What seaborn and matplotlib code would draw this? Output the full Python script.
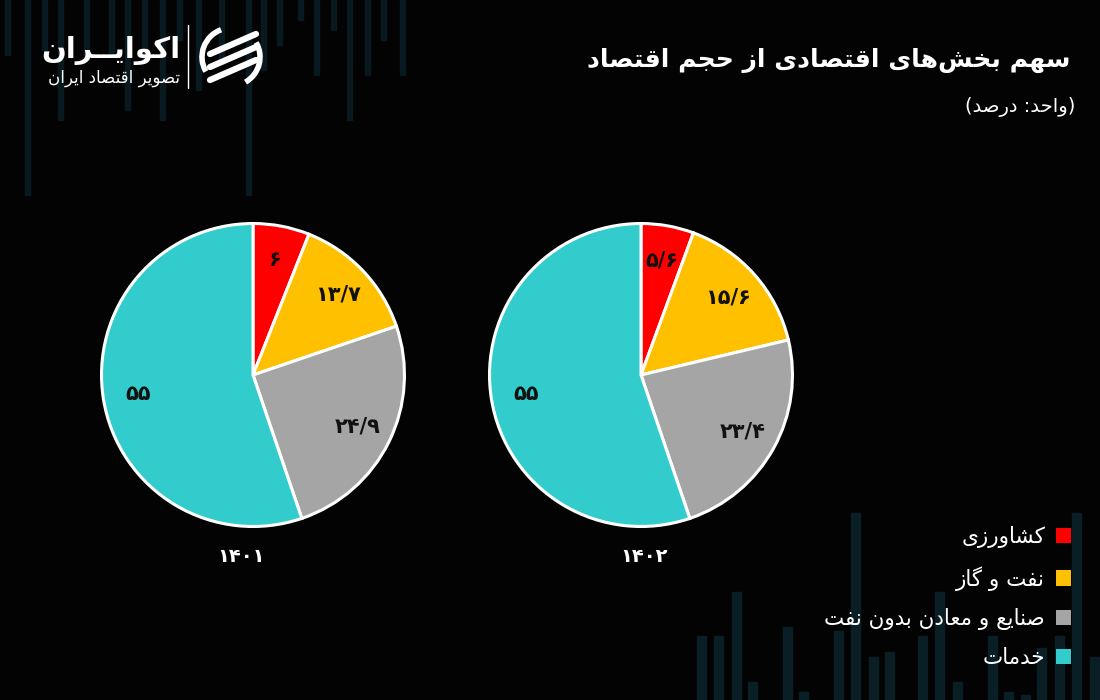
import matplotlib
matplotlib.use("Agg")
import matplotlib.pyplot as plt
import seaborn as sns
from matplotlib.patches import Patch, Rectangle, Arc

# --- data ---
sectors = ["کشاورزی", "نفت و گاز", "صنایع و معادن بدون نفت", "خدمات"]
share_1401 = [6, 13.7, 24.9, 55]
share_1402 = [5.6, 15.6, 23.4, 55]
years = ["۱۴۰۱", "۱۴۰۲"]
colors = ["#ff0000", "#ffc000", "#a5a5a5", "#33cccc"]

title = "سهم بخش‌های اقتصادی از حجم اقتصاد"
subtitle = "(واحد: درصد)"
brand = "اکوایــران"
brand_sub = "تصویر اقتصاد ایران"

# --- tiny arabic shaper (no arabic_reshaper available) ---
# isolated, final, initial, medial
FORMS = {
    "ا": ("\uFE8D", "\uFE8E", None, None),
    "ب": ("\uFE8F", "\uFE90", "\uFE91", "\uFE92"),
    "ت": ("\uFE95", "\uFE96", "\uFE97", "\uFE98"),
    "ج": ("\uFE9D", "\uFE9E", "\uFE9F", "\uFEA0"),
    "ح": ("\uFEA1", "\uFEA2", "\uFEA3", "\uFEA4"),
    "خ": ("\uFEA5", "\uFEA6", "\uFEA7", "\uFEA8"),
    "د": ("\uFEA9", "\uFEAA", None, None),
    "ر": ("\uFEAD", "\uFEAE", None, None),
    "ز": ("\uFEAF", "\uFEB0", None, None),
    "س": ("\uFEB1", "\uFEB2", "\uFEB3", "\uFEB4"),
    "ش": ("\uFEB5", "\uFEB6", "\uFEB7", "\uFEB8"),
    "ص": ("\uFEB9", "\uFEBA", "\uFEBB", "\uFEBC"),
    "ع": ("\uFEC9", "\uFECA", "\uFECB", "\uFECC"),
    "ف": ("\uFED1", "\uFED2", "\uFED3", "\uFED4"),
    "ق": ("\uFED5", "\uFED6", "\uFED7", "\uFED8"),
    "م": ("\uFEE1", "\uFEE2", "\uFEE3", "\uFEE4"),
    "ن": ("\uFEE5", "\uFEE6", "\uFEE7", "\uFEE8"),
    "ه": ("\uFEE9", "\uFEEA", "\uFEEB", "\uFEEC"),
    "و": ("\uFEED", "\uFEEE", None, None),
    "ی": ("\uFBFC", "\uFBFD", "\uFBFE", "\uFBFF"),
    "ک": ("\uFB8E", "\uFB8F", "\uFB90", "\uFB91"),
    "گ": ("\uFB92", "\uFB93", "\uFB94", "\uFB95"),
    "ـ": ("ـ", "ـ", "ـ", "ـ"),
}


def fa(s):
    out = []
    for i, ch in enumerate(s):
        if ch == "\u200c":
            continue
        if ch not in FORMS:
            out.append(ch)
            continue
        iso, fin, ini, med = FORMS[ch]
        prev = s[i - 1] if i > 0 else ""
        nxt = s[i + 1] if i + 1 < len(s) else ""
        jp = prev in FORMS and FORMS[prev][2] is not None
        jn = ini is not None and nxt in FORMS
        if jp and jn:
            out.append(med)
        elif jp:
            out.append(fin)
        elif jn:
            out.append(ini)
        else:
            out.append(iso)
    vis = "".join(out)[::-1]
    return vis.translate(str.maketrans("()", ")("))


def fa_num(v):
    txt = f"{v:g}".replace(".", "/")
    return txt.translate(str.maketrans("0123456789", "۰۱۲۳۴۵۶۷۸۹"))


sns.set_theme(style="dark")
plt.rcParams["font.family"] = ["DejaVu Sans"]
pal = sns.color_palette(colors)

fig = plt.figure(figsize=(11, 7), dpi=100)
fig.patch.set_facecolor("#030303")

# background canvas in pixel coords
bg = fig.add_axes([0, 0, 1, 1], zorder=0)
bg.set_xlim(0, 1100)
bg.set_ylim(700, 0)
bg.axis("off")
bg.set_facecolor("#030303")

# decorative bars
deco_top = [(5, 55), (25, 195), (42, 50), (58, 120), (84, 60), (109, 55), (125, 110),
            (142, 60), (160, 120), (177, 40), (196, 90), (219, 60), (246, 195),
            (261, 70), (277, 45), (298, 20), (314, 75), (331, 30), (347, 120),
            (365, 75), (381, 40), (400, 75)]
for x, h in deco_top:
    bg.add_patch(Rectangle((x, 0), 5, h, color="#08191f", zorder=0))
deco_bot = [(701, 636), (718, 636), (736, 592), (752, 682), (787, 627), (803, 692),
            (838, 631), (855, 513), (873, 657), (889, 652), (922, 636), (939, 592),
            (957, 682), (992, 636), (1008, 692), (1025, 695), (1041, 648),
            (1059, 636), (1076, 513), (1094, 657)]
for x, y in deco_bot:
    bg.add_patch(Rectangle((x - 4, y), 9, 700 - y, color="#0a1e25", zorder=0))

# logo
bg.text(180, 50, fa(brand), color="white", fontsize=21, fontweight="bold",
        ha="right", va="center")
bg.text(180, 78, fa(brand_sub), color="white", fontsize=12, ha="right", va="center")
bg.plot([188, 188], [25, 88], color="white", lw=1)
bg.add_patch(Arc((231, 57), 58, 58, theta1=150, theta2=250, color="white", lw=4))
bg.add_patch(Arc((231, 57), 58, 58, theta1=330, theta2=60, color="white", lw=4))
for dy in (-13, 0, 13):
    bg.plot([210, 256], [57 + dy + 10, 57 + dy - 10], color="white", lw=4.5,
            solid_capstyle="round")

# title
bg.text(1070, 60, fa(title), color="white", fontsize=18, fontweight="bold",
        ha="right", va="center")
bg.text(1075, 107, fa(subtitle), color="white", fontsize=14, ha="right", va="center")

# pies
pie_boxes = [[100 / 1100, 172 / 700, 306 / 1100, 306 / 700],
             [488 / 1100, 172 / 700, 306 / 1100, 306 / 700]]
year_x = [241, 644]
for box, vals in zip(pie_boxes, [share_1401, share_1402]):
    ax = fig.add_axes(box, zorder=2)
    total = sum(vals)
    ax.pie(vals, colors=pal, startangle=90, counterclock=False,
           autopct=lambda p, t=total: fa_num(round(p * t / 100, 1)),
           pctdistance=0.77,
           wedgeprops=dict(edgecolor="white", linewidth=2.2),
           textprops=dict(color="#111111", fontsize=15, fontweight="bold"))
    ax.set_xlim(-1.01, 1.01)
    ax.set_ylim(-1.01, 1.01)
    ax.set_aspect("equal")
    ax.axis("off")

for x, y in zip(year_x, years):
    bg.text(x, 557, y, color="white", fontsize=14, fontweight="bold",
            ha="center", va="center")

# legend (marker on the right, RTL style)
handles = [Patch(facecolor=c, edgecolor="none") for c in pal]
fig.legend(handles, [fa(s) for s in sectors], markerfirst=False, frameon=False,
           loc="upper right", bbox_to_anchor=(1071 / 1100, 1 - 526 / 700),
           borderaxespad=0, borderpad=0, fontsize=15.5, labelcolor="white",
           handlelength=0.7, handleheight=0.7, handletextpad=0.5,
           labelspacing=0.83)

fig.savefig("out.png", dpi=100, facecolor=fig.get_facecolor())
